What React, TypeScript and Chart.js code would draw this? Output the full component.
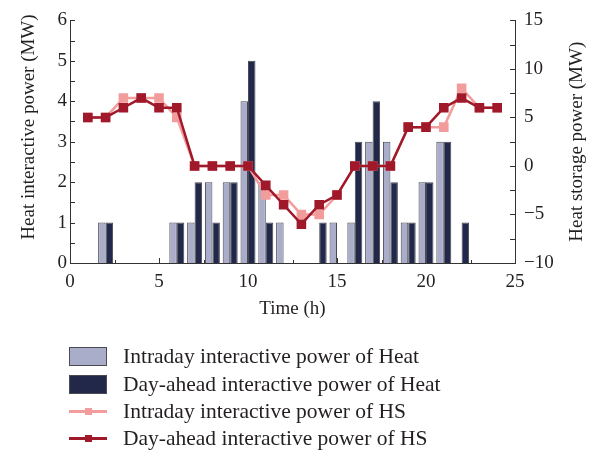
import React, { useEffect, useRef } from "react";
import { Chart, registerables } from "chart.js";

Chart.register(...registerables);

// ---- data ----
const hours = [1, 2, 3, 4, 5, 6, 7, 8, 9, 10, 11, 12, 13, 14, 15, 16, 17, 18, 19, 20, 21, 22, 23, 24];
const intradayHeat = [0, 1, 0, 0, 0, 1, 1, 2, 2, 4, 2, 1, 0, 0, 1, 1, 3, 3, 1, 2, 3, 0, 0, 0];
const dayAheadHeat = [0, 1, 0, 0, 0, 1, 2, 1, 2, 5, 1, 0, 0, 1, 0, 3, 4, 2, 1, 2, 3, 1, 0, 0];
const intradayHS = [5, 5, 7, 7, 7, 5, 0, 0, 0, 0, -3, -3, -5, -5, -3, 0, 0, 0, 4, 4, 4, 8, 6, 6];
const dayAheadHS = [5, 5, 6, 7, 6, 6, 0, 0, 0, 0, -2, -4, -6, -4, -3, 0, 0, 0, 4, 4, 6, 7, 6, 6];

const seriesLabels = [
  "Intraday interactive power of Heat",
  "Day-ahead interactive power of Heat",
  "Intraday interactive power of HS",
  "Day-ahead interactive power of HS",
];
const xTitle = "Time (h)";
const yTitle = "Heat interactive power (MW)";
const y1Title = "Heat storage power (MW)";

// ---- styles ----
const LIGHT_BAR = "#a9adca";
const DARK_BAR = "#22284a";
const BAR_BORDER = "#4a4a55";
const PINK = "#f39c9c";
const RED = "#a0192b";
const AXIS = "#333333";
const TEXT = "#231f20";
const FONT = "'Liberation Serif', 'DejaVu Serif', serif";

const W = 595;
const H = 451;

const fmtMinus = (v: number | string) => {
  const n = Number(v);
  return n < 0 ? "\u2212" + Math.abs(n) : String(n);
};

const tickPlugin = {
  id: "inwardTicks",
  beforeDatasetsDraw(chart: any) {
    const { ctx, chartArea, scales } = chart;
    ctx.save();
    ctx.strokeStyle = AXIS;
    ctx.lineWidth = 1;
    ctx.beginPath();
    // x ticks every 2.5
    for (let v = 0; v <= 25.001; v += 2.5) {
      const px = Math.round(scales.x.getPixelForValue(v)) + 0.5;
      const len = Math.abs(v % 5) < 0.01 ? 5 : 3;
      ctx.moveTo(px, chartArea.bottom);
      ctx.lineTo(px, chartArea.bottom - len);
    }
    // left ticks every 0.5
    for (let v = 0; v <= 6.001; v += 0.5) {
      const py = Math.round(scales.y.getPixelForValue(v)) + 0.5;
      ctx.moveTo(chartArea.left, py);
      ctx.lineTo(chartArea.left + 5, py);
    }
    // right ticks every 2.5
    for (let v = -10; v <= 15.001; v += 2.5) {
      const py = Math.round(scales.y1.getPixelForValue(v)) + 0.5;
      ctx.moveTo(chartArea.right, py);
      ctx.lineTo(chartArea.right - 5, py);
    }
    ctx.stroke();
    ctx.restore();
  },
  afterDraw(chart: any) {
    const { ctx, chartArea } = chart;
    ctx.save();
    ctx.fillStyle = TEXT;
    ctx.font = `19px ${FONT}`;
    ctx.textAlign = "center";
    ctx.textBaseline = "middle";
    // left title
    ctx.save();
    ctx.translate(29, 127);
    ctx.rotate(-Math.PI / 2);
    ctx.fillText(yTitle, 0, 0);
    ctx.restore();
    // right title
    ctx.save();
    ctx.translate(577, (chartArea.top + chartArea.bottom) / 2);
    ctx.rotate(-Math.PI / 2);
    ctx.fillText(y1Title, 0, 0);
    ctx.restore();
    ctx.restore();
  },
};

function LegendRow({ kind, color, label, top }: { kind: string; color: string; label: string; top: number }) {
  return (
    <div style={{ position: "absolute", left: 0, top: top - 14, height: 28, width: 520 }}>
      {kind === "box" ? (
        <div
          style={{
            position: "absolute",
            left: 69,
            top: 5,
            width: 36,
            height: 17,
            background: color,
            border: `1px solid ${BAR_BORDER}`,
          }}
        />
      ) : (
        <>
          <div style={{ position: "absolute", left: 69, top: 12.5, width: 38, height: 3, background: color }} />
          <div style={{ position: "absolute", left: 84.5, top: 10.5, width: 7, height: 7, background: color }} />
        </>
      )}
      <div
        style={{
          position: "absolute",
          left: 123,
          top: 0,
          height: 28,
          lineHeight: "28px",
          fontFamily: FONT,
          fontSize: 21.5,
          color: TEXT,
          whiteSpace: "nowrap",
        }}
      >
        {label}
      </div>
    </div>
  );
}

export default function App() {
  const canvasRef = useRef<HTMLCanvasElement | null>(null);

  useEffect(() => {
    if (!canvasRef.current) return;
    const toXY = (vals: number[]) => hours.map((h, i) => ({ x: h, y: vals[i] }));
    const chart = new Chart(canvasRef.current, {
      type: "bar",
      data: {
        datasets: [
          {
            type: "line",
            label: seriesLabels[3],
            data: toXY(dayAheadHS),
            yAxisID: "y1",
            borderColor: RED,
            backgroundColor: RED,
            pointBackgroundColor: RED,
            pointBorderColor: RED,
            pointStyle: "rect",
            pointRadius: 5,
            borderWidth: 2.5,
            order: 0,
          },
          {
            type: "line",
            label: seriesLabels[2],
            data: toXY(intradayHS),
            yAxisID: "y1",
            borderColor: PINK,
            backgroundColor: PINK,
            pointBackgroundColor: PINK,
            pointBorderColor: PINK,
            pointStyle: "rect",
            pointRadius: 5,
            borderWidth: 2.5,
            order: 1,
          },
          {
            type: "bar",
            label: seriesLabels[0],
            data: toXY(intradayHeat),
            yAxisID: "y",
            backgroundColor: LIGHT_BAR,
            borderColor: BAR_BORDER,
            borderWidth: 1,
            barPercentage: 1,
            categoryPercentage: 0.84,
            order: 2,
          },
          {
            type: "bar",
            label: seriesLabels[1],
            data: toXY(dayAheadHeat),
            yAxisID: "y",
            backgroundColor: DARK_BAR,
            borderColor: BAR_BORDER,
            borderWidth: 1,
            barPercentage: 1,
            categoryPercentage: 0.84,
            order: 3,
          },
        ] as any,
      },
      options: {
        responsive: false,
        animation: false,
        layout: { padding: { top: 15, bottom: 128, left: 0, right: 0 } },
        plugins: { legend: { display: false }, tooltip: { enabled: false } },
        scales: {
          x: {
            type: "linear",
            min: 0,
            max: 25,
            offset: false,
            grid: { display: false, drawTicks: false },
            border: { display: true, color: AXIS, width: 1 },
            ticks: {
              stepSize: 5,
              padding: 8,
              color: TEXT,
              font: { family: FONT, size: 19 },
              maxRotation: 0,
            },
            title: {
              display: true,
              text: xTitle,
              color: TEXT,
              font: { family: FONT, size: 19 },
              padding: { top: 0, bottom: 3 },
            },
            afterFit: (s: any) => {
              s.height = 60;
            },
          },
          y: {
            type: "linear",
            position: "left",
            min: 0,
            max: 6,
            grid: { display: false, drawTicks: false },
            border: { display: true, color: AXIS, width: 1 },
            ticks: {
              stepSize: 1,
              padding: 3,
              color: TEXT,
              font: { family: FONT, size: 19 },
            },
            afterFit: (s: any) => {
              s.width = 70;
            },
          },
          y1: {
            type: "linear",
            position: "right",
            min: -10,
            max: 15,
            grid: { display: false, drawTicks: false },
            border: { display: true, color: AXIS, width: 1 },
            ticks: {
              stepSize: 5,
              padding: 9,
              color: TEXT,
              font: { family: FONT, size: 19 },
              callback: (v: any) => fmtMinus(v),
            },
            afterFit: (s: any) => {
              s.width = 80;
            },
          },
        },
      } as any,
      plugins: [tickPlugin],
    });
    return () => chart.destroy();
  }, []);

  const legendTops = [356, 384, 411, 438];
  const legendKinds = ["box", "box", "line", "line"];
  const legendColors = [LIGHT_BAR, DARK_BAR, PINK, RED];

  return (
    <div style={{ position: "absolute", left: 0, top: 0, width: W, height: H, background: "#fff", overflow: "hidden" }}>
      <canvas ref={canvasRef} width={W} height={H} style={{ position: "absolute", left: 0, top: 0, width: W, height: H }} />
      {seriesLabels.map((lab, i) => (
        <LegendRow key={lab} kind={legendKinds[i]} color={legendColors[i]} label={lab} top={legendTops[i]} />
      ))}
    </div>
  );
}
